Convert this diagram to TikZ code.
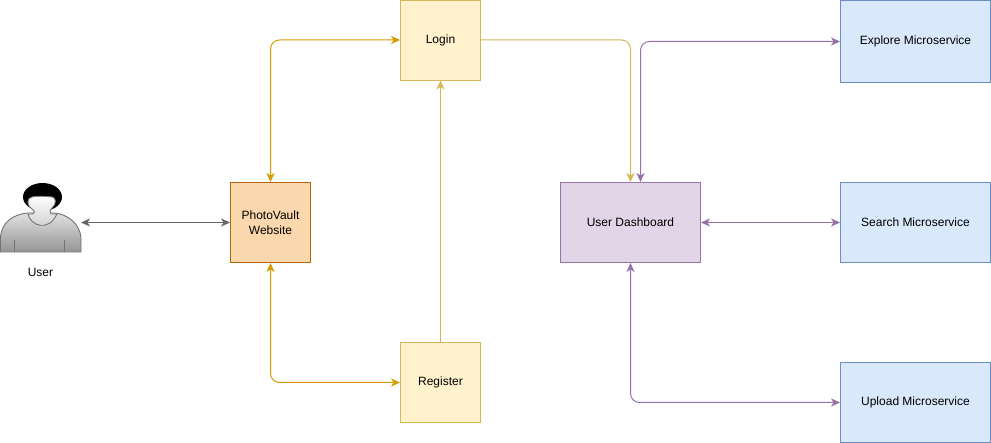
\documentclass[tikz,border=0pt]{standalone}
\usepackage{fontspec}
\setmainfont{Liberation Sans}
\usetikzlibrary{arrows.meta,calc}
\definecolor{yf}{HTML}{FFF2CC}\definecolor{ys}{HTML}{D6B656}
\definecolor{of}{HTML}{FAD7AC}\definecolor{os}{HTML}{B46504}
\definecolor{pf}{HTML}{E1D5E7}\definecolor{ps}{HTML}{9673A6}
\definecolor{bf}{HTML}{DAE8FC}\definecolor{bs}{HTML}{6C8EBF}
\definecolor{gs}{HTML}{D79B00}
\tikzset{
  box/.style={draw,line width=0.9pt,minimum height=80pt,align=center,inner sep=0pt,font=\fontsize{12}{15}\selectfont},
  yellowbox/.style={box,fill=yf,draw=ys,minimum width=80pt},
  orangebox/.style={box,fill=of,draw=os,minimum width=80pt},
  purplebox/.style={box,fill=pf,draw=ps,minimum width=140pt},
  bluebox/.style={box,fill=bf,draw=bs,minimum width=150pt},
  tip/.style={-{Stealth[length=9pt,width=8pt,inset=2.5pt]}},
  bitip/.style={{Stealth[length=9pt,width=8pt,inset=2.5pt]}-{Stealth[length=9pt,width=8pt,inset=2.5pt]}},
  link/.style={line width=1pt,rounded corners=9pt},
  goldlink/.style={link,draw=gs},
  yellowlink/.style={link,draw=ys},
  purplelink/.style={link,draw=ps},
  greylink/.style={link,draw=black!60,bitip},
  bodyline/.style={draw=black!55,line width=0.9pt},
}
\begin{document}
\begin{tikzpicture}[x=1pt,y=-1pt]
\useasboundingbox (0,0) rectangle (991,443);
\fill[white] (0,0) rectangle (991,443);
\node[yellowbox] (login) at (440.5,40) {Login};
\node[yellowbox] (register) at (440.5,382.5) {Register};
\node[orangebox] (pv) at (270.5,222.5) {PhotoVault\\Website};
\node[purplebox] (dash) at (630.5,222.5) {User Dashboard};
\node[bluebox,minimum height=82pt] (explore) at (915.5,41.5) {Explore Microservice};
\node[bluebox] (search) at (915.5,222.5) {Search Microservice};
\node[bluebox] (upload) at (915.5,402.5) {Upload Microservice};
% user figure
\shade[top color=black!12,bottom color=black!42,draw=black!55,line width=0.9pt]
  (0.5,252) -- (0.5,238) .. controls (1,222) and (14,214) .. (28,213)
  -- (54,213) .. controls (68,214) and (80,224) .. (81,238) -- (81,252) -- cycle;
\fill[black] (42.5,197) ellipse (19.5pt and 14pt);
\shade[top color=white,bottom color=black!22,draw=black!55,line width=0.9pt]
  (28,214) .. controls (30,225) and (48,233) .. (57,214) -- (51,214)
  .. controls (49,212) and (50,210) .. (52,208)
  .. controls (57,204) and (56,197) .. (52,197)
  .. controls (46,196) and (35,196) .. (32,197)
  .. controls (26,198) and (27,206) .. (32,209)
  .. controls (35,211) and (35,213) .. (33,214) -- cycle;
\draw[bodyline] (14,240) -- (14,252) (64.5,240) -- (64.5,252);
\node[font=\fontsize{12}{15}\selectfont] (user) at (40.5,272) {User};
\coordinate (userport) at (81,222.5);
% connectors
\draw[greylink] (userport) -- (pv.west);
\draw[goldlink,bitip] (pv.north) |- (login.west);
\draw[goldlink,bitip] (pv.south) |- (register.west);
\draw[yellowlink,tip] (register.north) -- (login.south);
\draw[yellowlink,tip] (login.east) -| (dash.north);
\coordinate (dashport) at ($(dash.north)+(10,0)$);
\draw[purplelink,bitip] (dashport) |- (explore.west);
\draw[purplelink,bitip] (dash.east) -- (search.west);
\draw[purplelink,bitip] (dash.south) |- (upload.west);
\end{tikzpicture}
\end{document}
